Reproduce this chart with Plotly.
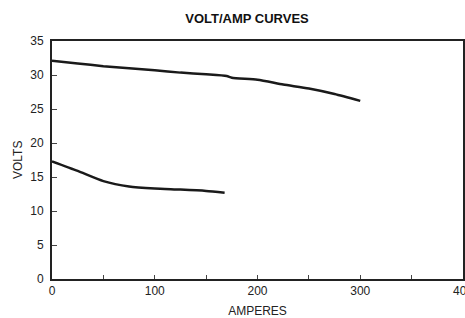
import plotly.graph_objects as go

amps_upper = [0, 25, 50, 75, 100, 125, 150, 170, 175, 200, 225, 250, 275, 300]
volts_upper = [32.1, 31.7, 31.3, 31.0, 30.7, 30.35, 30.1, 29.85, 29.6, 29.3, 28.6, 28.0, 27.2, 26.2]

amps_lower = [0, 25, 50, 75, 100, 125, 150, 168]
volts_lower = [17.3, 15.9, 14.4, 13.6, 13.3, 13.15, 12.95, 12.7]

x_ticks = [0, 100, 200, 300, 400]
y_ticks = [0, 5, 10, 15, 20, 25, 30, 35]

font_family = "Liberation Sans Narrow, Liberation Sans, Arial, sans-serif"

fig = go.Figure()
for xs, ys in [(amps_upper, volts_upper), (amps_lower, volts_lower)]:
    fig.add_trace(go.Scatter(x=xs, y=ys, mode="lines",
                             line=dict(color="#1a1a1a", width=2.5, shape="spline", smoothing=0.6),
                             showlegend=False, hoverinfo="skip"))

fig.update_layout(
    width=465, height=318,
    margin=dict(l=52, r=2, t=41, b=39, autoexpand=False),
    paper_bgcolor="white", plot_bgcolor="white",
    font=dict(family=font_family, size=12, color="#222"),
    title=dict(text="<b>VOLT/AMP CURVES</b>", x=247 / 465, xanchor="center", xref="container",
               y=1 - 18 / 318, yanchor="middle", yref="container",
               font=dict(family=font_family, size=13, color="#111")),
    annotations=[dict(text="VOLTS", textangle=-90, xref="paper", yref="paper",
                      x=(18 - 52) / 411, y=0.5, xanchor="center", yanchor="middle",
                      showarrow=False, font=dict(size=12, color="#222"))],
)
fig.update_xaxes(
    range=[0, 400], tickvals=x_ticks, ticktext=[str(v) for v in x_ticks],
    showgrid=False, zeroline=False, automargin=False, ticklabeloverflow="allow",
    showline=True, linecolor="#222", linewidth=2, mirror=True,
    ticks="inside", ticklen=4, tickcolor="#444", tickwidth=1,
    minor=dict(dtick=50, ticks="inside", ticklen=4, tickcolor="#444", tickwidth=1),
    title=dict(text="AMPERES", font=dict(size=12)),
    tickfont=dict(size=12),
)
fig.update_yaxes(
    range=[0, 35], tickvals=y_ticks, ticktext=[str(v) for v in y_ticks],
    showgrid=False, zeroline=False, automargin=False, ticklabelstandoff=4,
    showline=True, linecolor="#222", linewidth=2, mirror=True,
    ticks="inside", ticklen=5, tickcolor="#444", tickwidth=1,
    tickfont=dict(size=12),
)
fig.write_html("out.html", config={"displayModeBar": False},
               post_script="document.body.style.margin='0';")
